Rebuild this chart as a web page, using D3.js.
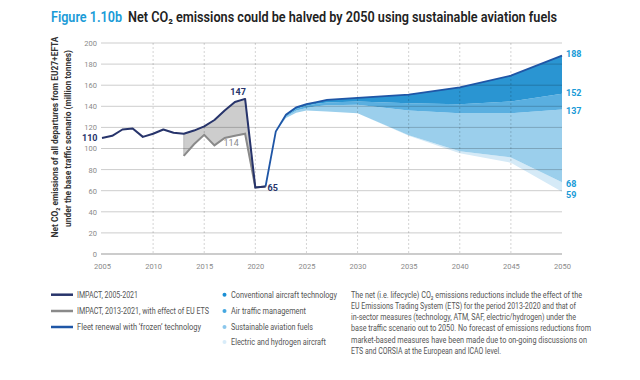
<!DOCTYPE html>
<html><head><meta charset="utf-8">
<script src="https://cdn.jsdelivr.net/npm/d3@7"></script>
<style>body{margin:0;background:#fff}svg{display:block}text{font-family:Roboto,"Open Sans",sans-serif}</style>
</head><body>
<script>
// ---- data ----
const histYears = [2005,2006,2007,2008,2009,2010,2011,2012,2013,2014,2015,2016,2017,2018,2019,2020,2021];
const impact    = [110,112,118,119,111,114,118,115,114,117,121,127,136,144,147,63,64];
const etsYears  = [2013,2014,2015,2016,2017,2018,2019,2020,2021];
const etsImpact = [93,104,113,103,110,112,114,63,64];
const projYears = [2021,2022,2023,2024,2025,2026,2027,2030,2035,2040,2045,2050];
const frozenTech = [64,116,132,139,142,144,146,148,151,158,169,188];
const afterTech  = [64,116,131,137.5,140.5,142.5,143.5,144.5,143,142,144.5,152];
const afterATM   = [64,116,130,136,138.5,140,141,141.5,136,133.5,133.5,137];
const afterSAF   = [64,116,129,134,136,135.5,135,133.5,112.5,97.5,91.5,68];
const afterEH    = [64,116,129,134,136,135.5,135,133.5,112,95.5,86.5,59];
const yTicks = [0,20,40,60,80,100,120,140,160,180,200];
const xTicks = [2005,2010,2015,2020,2025,2030,2035,2040,2045,2050];
const lineLegend = ["IMPACT, 2005-2021","IMPACT, 2013-2021, with effect of EU ETS","Fleet renewal with \u2018frozen\u2019 technology"];
const bandLegend = ["Conventional aircraft technology","Air traffic management","Sustainable aviation fuels","Electric and hydrogen aircraft"];
const noteLines = [
 "The net (i.e. lifecycle) CO\u2082 emissions reductions include the effect of the",
 "EU Emissions Trading System (ETS) for the period 2013-2020 and that of",
 "in-sector measures (technology, ATM, SAF, electric/hydrogen) under the",
 "base traffic scenario out to 2050. No forecast of emissions reductions from",
 "market-based measures have been made due to on-going discussions on",
 "ETS and CORSIA at the European and ICAO level."];
const endLabels = [188,152,137,68,59];

// ---- styles ----
const C = {navy:"#27346b", gray:"#8a8a8a", grayFill:"#cdcdcd", frozen:"#1f56a6",
  tech:"#2a95d2", atm:"#5aafe0", saf:"#9bcfec", eh:"#d5eaf7", label:"#1a9bd7", tick:"#8a8a8a", txt:"#555"};
const bandColors = [C.tech, C.atm, C.saf, C.eh];
const legendDot = ["#1a8fd5","#45a7e0","#8cc7ec","#d8ecf9"];

const W=640,H=380;
const svg = d3.select("body").append("svg").attr("width",W).attr("height",H);
const x = d3.scaleLinear().domain([2005,2050]).range([102,562]);
const y = d3.scaleLinear().domain([0,200]).range([254,43]);

// title
svg.append("text").attr("x",51).attr("y",22).attr("fill",C.label)
  .attr("font-size",14).attr("font-weight",600).text("Figure 1.10b")
  .attr("textLength",71).attr("lengthAdjust","spacingAndGlyphs");
svg.append("text").attr("x",128).attr("y",22).attr("fill","#222")
  .attr("font-size",14).attr("font-weight",600)
  .attr("textLength",429).attr("lengthAdjust","spacingAndGlyphs")
  .text("Net CO\u2082 emissions could be halved by 2050 using sustainable aviation fuels");

// y-axis title
svg.append("text").attr("transform","translate(55,137) rotate(-90)").attr("text-anchor","middle")
  .attr("dominant-baseline","central").attr("font-size",9).attr("font-weight",700).attr("fill","#333")
  .attr("textLength",201).attr("lengthAdjust","spacingAndGlyphs")
  .text("Net CO\u2082 emissions of all departures from EU27+EFTA");
svg.append("text").attr("transform","translate(68,138.5) rotate(-90)").attr("text-anchor","middle")
  .attr("dominant-baseline","central").attr("font-size",9).attr("font-weight",700).attr("fill","#333")
  .attr("textLength",177).attr("lengthAdjust","spacingAndGlyphs")
  .text("under the base traffic scenario (million tonnes)");

// areas
const proj = projYears.map((yr,i)=>({yr, lv:[frozenTech[i],afterTech[i],afterATM[i],afterSAF[i],afterEH[i]]}));
const area = (k)=>d3.area().x(d=>x(d.yr)).y0(d=>y(d.lv[k+1])).y1(d=>y(d.lv[k]));
[3,2,1,0].forEach(k=>{
  svg.append("path").datum(proj).attr("d",area(k)).attr("fill",bandColors[k]);
});
// gray ETS area
const etsData = etsYears.map((yr,i)=>({yr, lo:etsImpact[i], hi:impact[histYears.indexOf(yr)]}));
svg.append("path").datum(etsData)
  .attr("d",d3.area().x(d=>x(d.yr)).y0(d=>y(d.lo)).y1(d=>y(d.hi)))
  .attr("fill",C.grayFill).attr("stroke","#b5b5b5").attr("stroke-width",0.8);

// grid
const grid = svg.append("g");
grid.selectAll(".h").data(yTicks.filter(v=>v>0)).join("line")
  .attr("x1",101).attr("x2",562).attr("y1",d=>y(d)).attr("y2",d=>y(d))
  .attr("stroke","#000").attr("stroke-opacity",0.2).attr("stroke-width",1);
grid.selectAll(".v").data(xTicks.filter(v=>v>2005&&v<2050)).join("line")
  .attr("x1",d=>x(d)).attr("x2",d=>x(d)).attr("y1",43).attr("y2",254)
  .attr("stroke","#000").attr("stroke-opacity",0.22).attr("stroke-dasharray","2,2").attr("stroke-width",0.8);
svg.append("line").attr("x1",101).attr("x2",562).attr("y1",y(0)).attr("y2",y(0))
  .attr("stroke","#999").attr("stroke-width",1.2);

// axes labels
const yAxis = svg.append("g").attr("transform","translate(97,0)")
  .call(d3.axisLeft(y).tickValues(yTicks).tickSize(0).tickPadding(0));
yAxis.select(".domain").remove();
yAxis.selectAll("text").attr("fill",C.tick).attr("font-size",7.5).attr("font-family","Roboto,sans-serif");
const xAxis = svg.append("g").attr("transform","translate(0,264)")
  .call(d3.axisBottom(x).tickValues(xTicks).tickFormat(d3.format("d")).tickSize(0).tickPadding(0));
xAxis.select(".domain").remove();
xAxis.selectAll("text").attr("fill",C.tick).attr("font-size",7.5).attr("font-family","Roboto,sans-serif");

// lines
const line = d3.line().x(d=>x(d[0])).y(d=>y(d[1]));
svg.append("path").datum(etsYears.map((yr,i)=>[yr,etsImpact[i]])).attr("d",line)
  .attr("fill","none").attr("stroke",C.gray).attr("stroke-width",2);
svg.append("path").datum(projYears.map((yr,i)=>[yr,frozenTech[i]])).attr("d",line)
  .attr("fill","none").attr("stroke",C.frozen).attr("stroke-width",1.8);
svg.append("path").datum(histYears.map((yr,i)=>[yr,impact[i]])).attr("d",line)
  .attr("fill","none").attr("stroke",C.navy).attr("stroke-width",2).attr("stroke-linejoin","round");

// annotations
const ann = (tx,ty,s,col,anchor="middle",fw=700)=>svg.append("text").attr("x",tx).attr("y",ty)
  .attr("text-anchor",anchor).attr("dominant-baseline","central").attr("font-size",9)
  .attr("font-weight",fw).attr("fill",col).text(s);
ann(97.5,y(110),String(impact[0]),C.navy,"end");
ann(x(2019)-7,y(147)-7,String(impact[14]),C.navy);
ann(x(2019)-14,y(etsImpact[6])+9,String(etsImpact[6]),C.gray,"middle",400);
ann(x(2021)+2,y(64)+2,"65",C.navy,"start");
const endY = [53.7,93.3,110.7,184,194.7];
endLabels.forEach((v,i)=>ann(566,endY[i],String(v),C.label,"start"));

// legend
const lgY = [294.7,311,327,342];
const lineCols = [C.navy,C.gray,C.frozen];
const lineW = [61,132,124];
lineLegend.forEach((s,i)=>{
  svg.append("line").attr("x1",51).attr("x2",73).attr("y1",lgY[i]).attr("y2",lgY[i])
    .attr("stroke",lineCols[i]).attr("stroke-width",2.5);
  svg.append("text").attr("x",77).attr("y",lgY[i]).attr("dominant-baseline","central")
    .attr("font-size",8.5).attr("fill",C.txt).text(s)
    .attr("textLength",lineW[i]).attr("lengthAdjust","spacingAndGlyphs");
});
const bandW = [106,75,82,95];
bandLegend.forEach((s,i)=>{
  svg.append("circle").attr("cx",224.5).attr("cy",lgY[i]).attr("r",2).attr("fill",legendDot[i]);
  svg.append("text").attr("x",231).attr("y",lgY[i]).attr("dominant-baseline","central")
    .attr("font-size",8.5).attr("fill",C.txt).text(s)
    .attr("textLength",bandW[i]).attr("lengthAdjust","spacingAndGlyphs");
});
const noteW = [231,225,225,240,236,150];
noteLines.forEach((s,i)=>{
  svg.append("text").attr("x",351).attr("y",294.7+i*11.25).attr("dominant-baseline","central")
    .attr("font-size",8.5).attr("fill",C.txt).text(s)
    .attr("textLength",noteW[i]).attr("lengthAdjust","spacingAndGlyphs");
});
</script>
</body></html>
